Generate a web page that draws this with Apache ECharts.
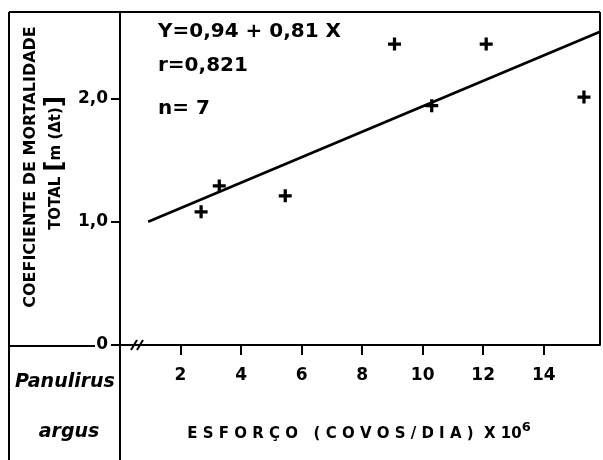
<!DOCTYPE html>
<html>
<head>
<meta charset="utf-8">
<script src="https://cdn.jsdelivr.net/npm/echarts@6/dist/echarts.min.js"></script>
<style>html,body{margin:0;padding:0;background:#fff;}#c{width:603px;height:460px;}</style>
</head>
<body>
<div id="c"></div>
<script>
// Observed points: effort (x 10^6 pot-days) vs total mortality
const effortX = [2.68, 3.28, 5.46, 9.07, 10.3, 12.1, 15.33];
const mortalityY = [1.08, 1.29, 1.21, 2.44, 1.94, 2.44, 2.01];
// Fitted line as drawn (endpoints)
const fitX = [0.93, 15.86];
const fitY = [1.0, 2.54];
const xTicks = [2, 4, 6, 8, 10, 12, 14];
const yTicks = [0, 1, 2];
const yTickLabels = ['0', '1,0', '2,0'];
const annotations = ['Y=0,94 + 0,81 X', 'r=0,821', 'n= 7'];

const FONT = 'DejaVu Sans';
const chart = echarts.init(document.getElementById('c'), null, {renderer: 'canvas'});
const plus = 'path://M4.5,0H7.5V4.5H12V7.5H7.5V12H4.5V7.5H0V4.5H4.5Z';

chart.setOption({
  animation: false,
  backgroundColor: '#fff',
  grid: {left: 120, right: 3, top: 12, bottom: 115, containLabel: false},
  xAxis: {
    type: 'value', min: 0, max: 15.86, interval: 2,
    splitLine: {show: false},
    axisLine: {show: true, onZero: false, lineStyle: {color: '#000', width: 2}},
    axisTick: {show: true, customValues: xTicks, length: 10, inside: false, lineStyle: {color: '#000', width: 2}},
    axisLabel: {customValues: xTicks, color: '#000', fontFamily: FONT, fontWeight: 'bold', fontSize: 17, margin: 22}
  },
  yAxis: {
    type: 'value', min: 0, max: 2.7, interval: 1,
    splitLine: {show: false},
    axisLine: {show: true, lineStyle: {color: '#000', width: 2}},
    axisTick: {show: true, customValues: yTicks, length: 9, lineStyle: {color: '#000', width: 2}},
    axisLabel: {customValues: yTicks, color: '#000', fontFamily: FONT, fontWeight: 'bold', fontSize: 17, margin: 12,
      formatter: v => { const i = yTicks.indexOf(Math.round(v)); return i >= 0 ? yTickLabels[i] : ''; }}
  },
  series: [
    {type: 'line', data: fitX.map((x, i) => [x, fitY[i]]), showSymbol: false, symbol: 'none',
     lineStyle: {color: '#000', width: 2.8}, z: 2},
    {type: 'scatter', data: effortX.map((x, i) => [x, mortalityY[i]]), symbol: plus, symbolSize: 13,
     itemStyle: {color: '#000', opacity: 1}, z: 3}
  ],
  graphic: [
    // frame lines
    {type: 'line', shape: {x1: 9, y1: 12, x2: 600, y2: 12}, style: {stroke: '#000', lineWidth: 2}},
    {type: 'line', shape: {x1: 600, y1: 12, x2: 600, y2: 345}, style: {stroke: '#000', lineWidth: 2}},
    {type: 'line', shape: {x1: 9, y1: 12, x2: 9, y2: 460}, style: {stroke: '#000', lineWidth: 2}},
    {type: 'line', shape: {x1: 9, y1: 346, x2: 95, y2: 346}, style: {stroke: '#000', lineWidth: 2}},
    {type: 'line', shape: {x1: 120, y1: 345, x2: 120, y2: 460}, style: {stroke: '#000', lineWidth: 2}},
    // axis break marks
    {type: 'line', shape: {x1: 131, y1: 350, x2: 137, y2: 340}, style: {stroke: '#000', lineWidth: 2}, z: 10},
    {type: 'line', shape: {x1: 137, y1: 350, x2: 143, y2: 340}, style: {stroke: '#000', lineWidth: 2}, z: 10},
    // y axis titles
    {type: 'text', x: 31, y: 167, rotation: Math.PI / 2,
     style: {text: 'COEFICIENTE DE MORTALIDADE', fill: '#000', font: 'bold 16px "DejaVu Sans"', align: 'center', verticalAlign: 'middle'}},
    {type: 'text', x: 56, y: 163, rotation: Math.PI / 2,
     style: {text: 'TOTAL {b|[}m (Δt){b|]}', fill: '#000', font: 'bold 15px "DejaVu Sans"', align: 'center', verticalAlign: 'middle',
       rich: {b: {fontSize: 24, fontWeight: 'bold', fontFamily: FONT}}}},
    // annotations
    {type: 'text', x: 158, y: 32, style: {text: annotations[0], fill: '#000', font: 'bold 20px "DejaVu Sans"', verticalAlign: 'middle'}},
    {type: 'text', x: 158, y: 66, style: {text: annotations[1], fill: '#000', font: 'bold 20px "DejaVu Sans"', verticalAlign: 'middle'}},
    {type: 'text', x: 158, y: 109, style: {text: annotations[2], fill: '#000', font: 'bold 20px "DejaVu Sans"', verticalAlign: 'middle'}},
    // species labels
    {type: 'text', x: 65, y: 382, style: {text: 'Panulirus', fill: '#000', font: 'italic bold 19px "DejaVu Sans"', align: 'center', verticalAlign: 'middle'}},
    {type: 'text', x: 69, y: 432, style: {text: 'argus', fill: '#000', font: 'italic bold 19px "DejaVu Sans"', align: 'center', verticalAlign: 'middle'}},
    // x axis title
    {type: 'text', x: 359, y: 434, style: {text: 'E S F O R Ç O   ( C O V O S / D I A )  X 10{s|6}', fill: '#000',
      font: 'bold 15px "DejaVu Sans"', align: 'center', verticalAlign: 'middle',
      rich: {s: {fontSize: 13, fontWeight: 'bold', fontFamily: FONT, verticalAlign: 'top', padding: [0, 0, 12, 0]}}}}
  ]
});
</script>
</body>
</html>
